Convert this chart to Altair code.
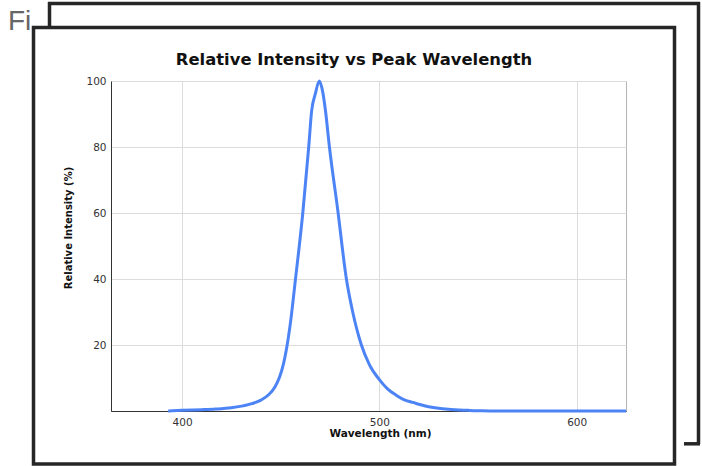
import altair as alt
import pandas as pd

# Spectrum
wavelength = [393, 400, 410, 417, 425, 434, 440, 444, 447, 449.4, 451.5, 453, 455, 457.5,
              461.2, 464.2, 465.7, 467.5, 469.6, 471.2, 472.7, 474.7, 478.9, 483.3,
              486.5, 490.9, 495, 500, 504, 508.5, 513, 517, 521, 525, 530, 535,
              545, 552, 560, 600, 625]
intensity = [0, 0.2, 0.4, 0.6, 1.0, 2.0, 3.3, 5.0, 7.2, 10.2, 14.5, 19, 27, 40,
             60, 80, 91, 96, 100, 97, 91, 80, 61, 40,
             30, 20, 14, 9.5, 6.8, 4.8, 3.3, 2.6, 1.9, 1.3, 0.8, 0.5,
             0.2, 0.05, 0, 0, 0]

x_ticks = [400, 500, 600]
y_ticks = [20, 40, 60, 80, 100]
title_text = ["Relative Intensity vs Peak Wavelength"]
corner_text = ["Fi"]

df = pd.DataFrame({"wavelength": wavelength, "intensity": intensity})
one = pd.DataFrame({"t": corner_text})
ttl = pd.DataFrame({"t": title_text})

FONT = "DejaVu Sans"
FRAME = "#262626"

line = alt.Chart(df).mark_line(
    color="#4d84f5", strokeWidth=3, interpolate="monotone"
).encode(
    x=alt.X("wavelength:Q",
            scale=alt.Scale(domain=[364, 625], nice=False, zero=False),
            axis=alt.Axis(values=x_ticks, title="Wavelength (nm)", grid=True,
                          gridColor="#dcdcdc", ticks=False, labelPadding=6,
                          domainColor="#333333", labelColor="#333333",
                          labelFont=FONT, labelFontSize=10.5,
                          titleFont=FONT, titleFontSize=10.5, titleFontWeight="bold",
                          titleColor="#111111", titleX=269, titleY=22,
                          titleAlign="center", titleBaseline="middle")),
    y=alt.Y("intensity:Q",
            scale=alt.Scale(domain=[0, 100], nice=False),
            axis=alt.Axis(values=y_ticks, title="Relative Intensity (%)", grid=True,
                          gridColor="#dcdcdc", ticks=False, labelPadding=5,
                          domainColor="#333333", labelColor="#333333",
                          labelFont=FONT, labelFontSize=10.5,
                          titleFont=FONT, titleFontSize=10, titleFontWeight="bold",
                          titleColor="#111111", titleX=-43, titleY=146.5,
                          titleAlign="center", titleBaseline="middle")),
)

# decorative frames around the figure (positions relative to the plot area)
def rule(x1, x2, y1, y2):
    return alt.Chart(one).mark_rule(color=FRAME, strokeWidth=3.5).encode(
        x=alt.value(x1), x2=alt.value(x2), y=alt.value(y1), y2=alt.value(y2))

back_top = rule(-63, 589, -77.5, -77.5)
back_left = rule(-61.5, -61.5, -79, -55)
back_right = rule(587.5, 587.5, -79, 363)
back_bottom = rule(573, 589, 362.8, 362.8)

front = alt.Chart(one).mark_rect(
    fillOpacity=0, stroke=FRAME, strokeWidth=3.5
).encode(x=alt.value(-77.5), x2=alt.value(563.5), y=alt.value(-53.5), y2=alt.value(383))

fi = alt.Chart(one).mark_text(
    font="Liberation Sans", fontSize=28, color="#666666", align="left",
    baseline="alphabetic"
).encode(text="t:N", x=alt.value(-103), y=alt.value(-51))

title = alt.Chart(ttl).mark_text(
    font=FONT, fontSize=16.4, fontWeight="bold", color="#111111", align="center",
    baseline="alphabetic"
).encode(text="t:N", x=alt.value(243), y=alt.value(-16))

chart = alt.layer(back_top, back_left, back_right, back_bottom, front, fi, title, line).properties(
    width=515, height=330,
    padding={"left": 111, "top": 81, "right": 76, "bottom": 55},
    autosize=alt.AutoSizeParams(type="none"),
    background="white",
).configure_view(stroke="#b5b5b5", strokeWidth=1)

chart.save("out.html", embed_options={"renderer": "svg", "actions": False})
